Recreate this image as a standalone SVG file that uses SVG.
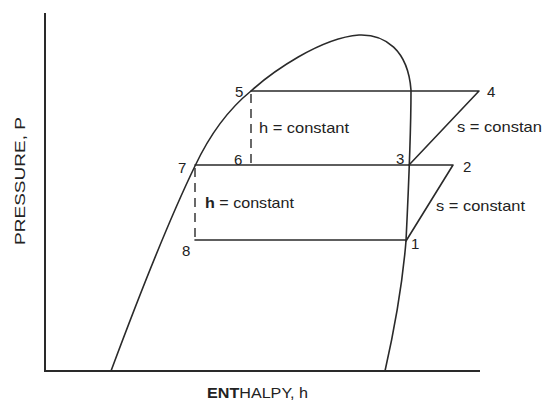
<svg xmlns="http://www.w3.org/2000/svg" width="542" height="401" viewBox="0 0 542 401">
<style>
.ln{fill:none;stroke:#2a2a2a;stroke-width:1.6;stroke-linecap:round;stroke-linejoin:round}
.ax{fill:none;stroke:#2a2a2a;stroke-width:2}
.ds{fill:none;stroke:#2a2a2a;stroke-width:1.4;stroke-dasharray:9,6}
text{font-family:"Liberation Sans",Arial,sans-serif;font-size:15px;fill:#222}
</style>
<rect width="542" height="401" fill="#fff"/>
<g id="axes">
<path class="ax" d="M45,13 L45,371 L480,371"/>
<text transform="translate(25,181) rotate(-90)" text-anchor="middle" textLength="128" lengthAdjust="spacingAndGlyphs">PRESSURE, P</text>
<text x="207" y="398" textLength="101" lengthAdjust="spacingAndGlyphs"><tspan font-weight="bold">ENT</tspan>HALPY, h</text>
</g>
<g id="dome">
<path class="ln" d="M111,371 C130,320 163,232 195,166 C212,130 230,108 251,91 C272,72 320,38 359,35 C385,34 408,50 411,90 C411,130 408,200 406,241 C402,290 392,340 385,371"/>
</g>
<g id="connectors">
<path class="ln" d="M251,91 L479,91 L409,165"/>
<path class="ln" d="M195,165 L453,165 L406,241"/>
<path class="ln" d="M195,240 L406,240"/>
<path class="ds" d="M251,94 L251,165"/>
<path class="ds" d="M195,168 L195,240"/>
</g>
<g id="p1"><text x="411" y="249">1</text></g>
<g id="p2"><text x="463" y="172">2</text></g>
<g id="p3"><text x="396" y="164">3</text></g>
<g id="p4"><text x="487" y="97">4</text></g>
<g id="p5"><text x="235" y="97">5</text></g>
<g id="p6"><text x="234" y="165">6</text></g>
<g id="p7"><text x="178" y="173">7</text></g>
<g id="p8"><text x="182" y="256">8</text></g>
<g id="labels">
<text x="259" y="133" textLength="90" lengthAdjust="spacingAndGlyphs">h = constant</text>
<text x="205" y="208" textLength="89" lengthAdjust="spacingAndGlyphs"><tspan font-weight="bold">h</tspan> = constant</text>
<text x="457" y="132" textLength="85" lengthAdjust="spacingAndGlyphs">s = constan</text>
<text x="436" y="211" textLength="89" lengthAdjust="spacingAndGlyphs">s = constant</text>
</g>
</svg>
